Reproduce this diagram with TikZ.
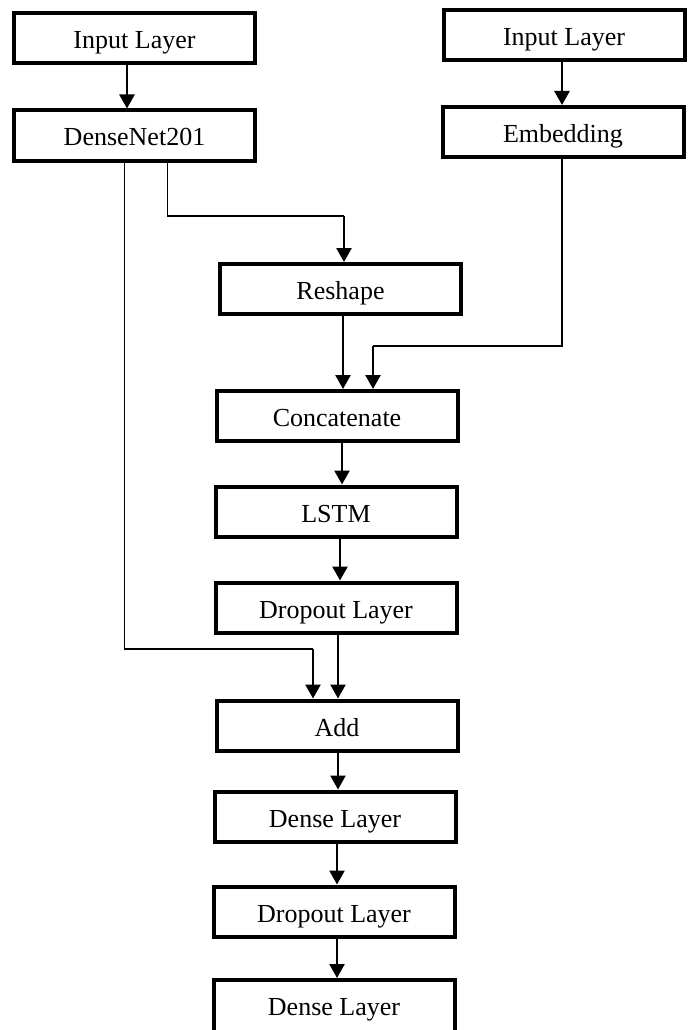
\documentclass[tikz,border=0pt]{standalone}
\usepackage{fontspec}
\setmainfont{Liberation Serif}
\usetikzlibrary{arrows.meta, positioning}

\begin{document}
\begin{tikzpicture}[x=1pt, y=-1pt,
  layer/.style={draw, line width=4pt, minimum width=241pt, minimum height=50pt,
                inner sep=0pt, text height=21pt, text depth=0pt,
                font=\fontsize{26}{30}\selectfont},
  arr/.style={line width=2.6pt, -{Triangle[width=15pt, length=14pt]}},
  wire/.style={line width=1.8pt}]
\useasboundingbox (0,0) rectangle (690,1030);
% image branch
\node[layer] (in1) at (134.5,38.5) {Input Layer};
\node[layer] (densenet) at (134.5,135.5) {DenseNet201};
% text branch
\node[layer] (in2) at (564,35) {Input Layer};
\node[layer] (embed) at (563,132) {Embedding};
% merged stack
\node[layer] (reshape) at (340.5,289) {Reshape};
\node[layer] (concat) at (337,416) {Concatenate};
\node[layer] (lstm) at (336,511.5) {LSTM};
\node[layer] (drop1) at (336,607.5) {Dropout Layer};
\node[layer] (add) at (337,725.5) {Add};
\node[layer] (dense1) at (335,816.5) {Dense Layer};
\node[layer] (drop2) at (334,911.5) {Dropout Layer};
\node[layer, minimum height=56pt, text depth=7pt] (dense2) at (334,1008) {Dense Layer};
% inputs
\draw[arr] ([xshift=-7.5pt]in1.south) -- ([xshift=-7.5pt]densenet.north);
\draw[arr] ([xshift=-2pt]in2.south) -- ([xshift=-1pt]embed.north);
% routed connectors
\coordinate (toReshape) at (344,216);
\draw[wire] ([xshift=33pt]densenet.south) |- (toReshape);
\draw[arr] (toReshape) -- (toReshape |- reshape.north);
\coordinate (toConcat) at (373,346);
\draw[wire] ([xshift=-1pt]embed.south) |- (toConcat);
\draw[arr] (toConcat) -- (toConcat |- concat.north);
\coordinate (toAdd) at (313,649);
\draw[wire] ([xshift=-10pt]densenet.south) |- (toAdd);
\draw[arr] (toAdd) -- (toAdd |- add.north);
% main chain
\draw[arr] ([xshift=2.5pt]reshape.south) -- ([xshift=6pt]concat.north);
\draw[arr] ([xshift=5pt]concat.south) -- ([xshift=6pt]lstm.north);
\draw[arr] ([xshift=4pt]lstm.south) -- ([xshift=4pt]drop1.north);
\draw[arr] ([xshift=2pt]drop1.south) -- ([xshift=1pt]add.north);
\draw[arr] ([xshift=1pt]add.south) -- ([xshift=3pt]dense1.north);
\draw[arr] ([xshift=2pt]dense1.south) -- ([xshift=3pt]drop2.north);
\draw[arr] ([xshift=3pt]drop2.south) -- ([xshift=3pt]dense2.north);
\end{tikzpicture}
\end{document}
